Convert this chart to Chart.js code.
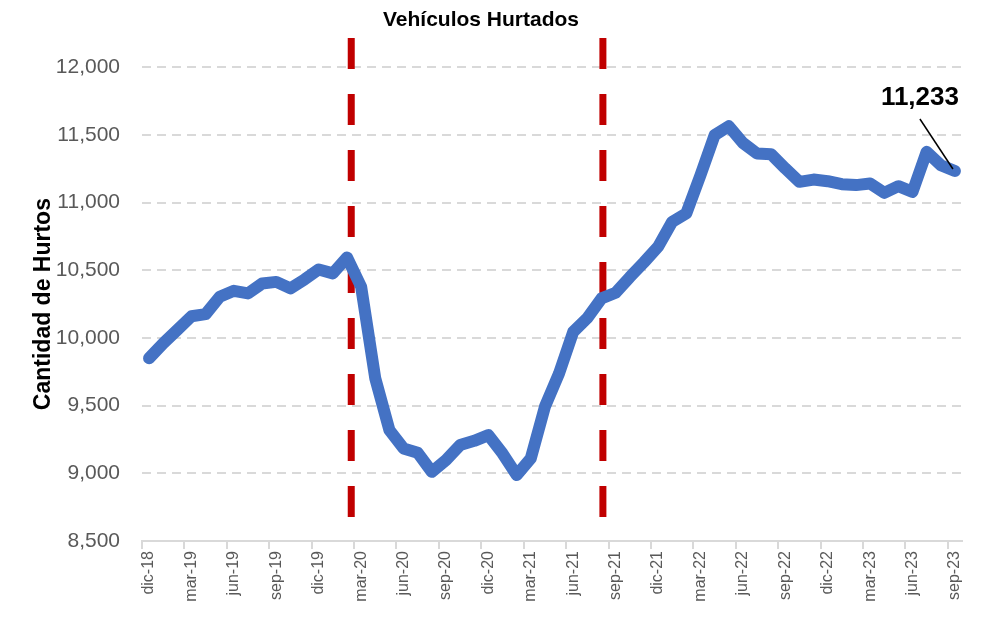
<!DOCTYPE html>
<html>
<head>
<meta charset="utf-8">
<script src="https://cdn.jsdelivr.net/npm/chart.js@4/dist/chart.umd.min.js"></script>
<style>
  html, body { margin: 0; padding: 0; background: #fff; }
  #wrap { width: 1000px; height: 617px; position: relative; }
</style>
</head>
<body>
<div id="wrap"><canvas id="chart"></canvas></div>
<script>
// months, dic-18 .. sep-23
const categories = [
  'dic-18',
  'ene-19','feb-19','mar-19','abr-19','may-19','jun-19','jul-19','ago-19','sep-19','oct-19','nov-19','dic-19',
  'ene-20','feb-20','mar-20','abr-20','may-20','jun-20','jul-20','ago-20','sep-20','oct-20','nov-20','dic-20',
  'ene-21','feb-21','mar-21','abr-21','may-21','jun-21','jul-21','ago-21','sep-21','oct-21','nov-21','dic-21',
  'ene-22','feb-22','mar-22','abr-22','may-22','jun-22','jul-22','ago-22','sep-22','oct-22','nov-22','dic-22',
  'ene-23','feb-23','mar-23','abr-23','may-23','jun-23','jul-23','ago-23','sep-23'
];

const hurtos = [
  9850, 9960, 10060, 10160, 10176, 10304, 10348, 10329, 10402, 10414, 10366, 10432, 10506,
  10477, 10595, 10378, 9701, 9319, 9184, 9152, 9011, 9098, 9209, 9240, 9282,
  9147, 8987, 9110, 9492, 9738, 10045, 10147, 10292, 10334, 10449, 10558, 10673,
  10858, 10920, 11202, 11498, 11564, 11441, 11362, 11357, 11252, 11153, 11170, 11158,
  11136, 11129, 11141, 11072, 11121, 11079, 11375, 11276, 11233
];

const yTicks = [8500, 9000, 9500, 10000, 10500, 11000, 11500, 12000];

// red dashed markers, as (fractional) category index
const markerPos = [14.3, 32.1];
const markerRange = [8670, 12215];

const lastLabel = '11,233';

const FONT = '"Liberation Sans", Arial, sans-serif';
const GRAY = '#595959';
const GRID = '#D9D9D9';

const markerLines = {
  id: 'markerLines',
  beforeDatasetsDraw(chart) {
    const { ctx, scales: { x, y } } = chart;
    ctx.save();
    ctx.strokeStyle = '#C00000';
    ctx.lineWidth = 7;
    ctx.setLineDash([31, 25]);
    markerPos.forEach(p => {
      const px = x.getPixelForValue(p);
      ctx.beginPath();
      ctx.moveTo(px, y.getPixelForValue(markerRange[1]));
      ctx.lineTo(px, y.getPixelForValue(markerRange[0]));
      ctx.stroke();
    });
    ctx.restore();
  }
};

const lastPointLabel = {
  id: 'lastPointLabel',
  afterDatasetsDraw(chart) {
    const { ctx } = chart;
    const meta = chart.getDatasetMeta(0);
    const pt = meta.data[meta.data.length - 1];
    ctx.save();
    ctx.strokeStyle = '#000';
    ctx.lineWidth = 1.5;
    ctx.beginPath();
    ctx.moveTo(pt.x - 35, pt.y - 52);
    ctx.lineTo(pt.x - 2, pt.y - 2);
    ctx.stroke();
    ctx.font = `bold 26px ${FONT}`;
    ctx.fillStyle = '#000';
    ctx.textAlign = 'center';
    ctx.textBaseline = 'middle';
    ctx.fillText(lastLabel, pt.x - 35, pt.y - 73);
    ctx.restore();
  }
};

new Chart(document.getElementById('chart'), {
  type: 'line',
  data: {
    labels: categories,
    datasets: [{
      data: hurtos,
      borderColor: '#4472C4',
      borderWidth: 12,
      borderCapStyle: 'round',
      borderJoinStyle: 'round',
      pointRadius: 0,
      tension: 0,
      clip: false
    }]
  },
  options: {
    responsive: true,
    maintainAspectRatio: false,
    animation: false,
    layout: { padding: { left: 0, right: 38, top: 0, bottom: 0 } },
    plugins: {
      legend: { display: false },
      tooltip: { enabled: false },
      title: {
        display: true,
        text: 'Vehículos Hurtados',
        color: '#000',
        font: { family: FONT, size: 21, weight: 'bold' },
        padding: { top: 8, bottom: 34 }
      }
    },
    scales: {
      x: {
        offset: true,
        grid: {
          offset: true,
          drawOnChartArea: false,
          tickLength: 8,
          lineWidth: 2,
          color: c => (c.index % 3 === 0 ? GRID : 'rgba(0,0,0,0)')
        },
        border: { display: true, color: GRID, width: 2 },
        ticks: {
          autoSkip: false,
          maxRotation: 90,
          minRotation: 90,
          padding: 2,
          color: GRAY,
          font: { family: FONT, size: 16 },
          callback: (v, i) => (i % 3 === 0 ? categories[i] : '')
        },
        afterFit: s => { s.height = 76; }
      },
      y: {
        min: 8500,
        max: 12000,
        afterBuildTicks: s => { s.ticks = yTicks.map(v => ({ value: v })); },
        grid: {
          color: GRID,
          lineWidth: 2,
          drawTicks: false
        },
        border: { display: false, dash: [9, 6] },
        ticks: {
          padding: 22,
          color: GRAY,
          font: { family: FONT, size: 21 },
          callback: v => v.toLocaleString('en-US')
        },
        title: {
          display: true,
          text: 'Cantidad de Hurtos',
          color: '#000',
          font: { family: FONT, size: 23, weight: 'bold' },
          padding: { top: 30, bottom: 0 }
        },
        afterFit: s => { s.width = 142; }
      }
    }
  },
  plugins: [markerLines, lastPointLabel]
});
</script>
</body>
</html>
